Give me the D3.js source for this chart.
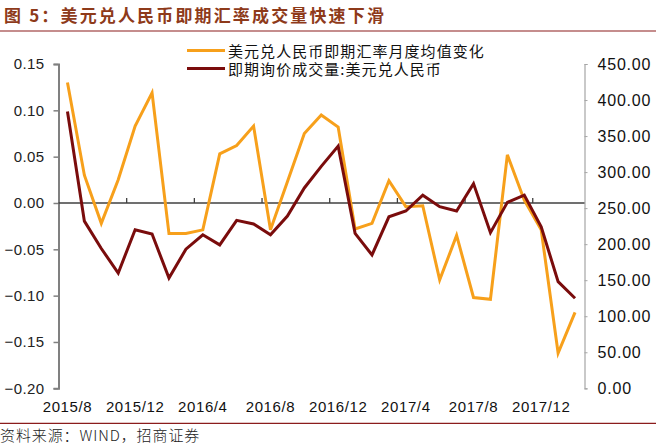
<!DOCTYPE html>
<html><head><meta charset="utf-8">
<script src="https://cdn.jsdelivr.net/npm/d3@7/dist/d3.min.js"></script>
<style>
html,body{margin:0;padding:0;background:#fff;}
svg{display:block;}
</style></head>
<body><svg id="c" width="656" height="446"></svg>
<script>
const titleText = "图 5：美元兑人民币即期汇率成交量快速下滑";
const sourceText = "资料来源：WIND，招商证券";
const seriesNames = ["美元兑人民币即期汇率月度均值变化", "即期询价成交量:美元兑人民币"];
const categories = ["2015/8","2015/9","2015/10","2015/11","2015/12","2016/1","2016/2","2016/3","2016/4","2016/5","2016/6","2016/7","2016/8","2016/9","2016/10","2016/11","2016/12","2017/1","2017/2","2017/3","2017/4","2017/5","2017/6","2017/7","2017/8","2017/9","2017/10","2017/11","2017/12","2018/1","2018/2"];
const fxChange = [0.130, 0.030, -0.022, 0.025, 0.083, 0.119, -0.033, -0.033, -0.029, 0.053, 0.062, 0.083, -0.029, 0.023, 0.075, 0.095, 0.082, -0.028, -0.022, 0.024, -0.004, -0.003, -0.083, -0.035, -0.102, -0.104, 0.052, 0.003, -0.029, -0.162, -0.118];
const volume = [384, 232, 194, 160, 220, 214, 153, 193, 213, 199, 233, 228, 213, 239, 278, 308, 336, 215, 185, 238, 246, 268, 252, 246, 284, 216, 258, 268, 224, 148, 125];
const leftTicks = [0.15, 0.10, 0.05, 0.00, -0.05, -0.10, -0.15, -0.20];
const rightTicks = [450, 400, 350, 300, 250, 200, 150, 100, 50, 0];
const xLabels = ["2015/8","2015/12","2016/4","2016/8","2016/12","2017/4","2017/8","2017/12"];

const orange = "#F7A01B", darkRed = "#7A0C0C";
const svg = d3.select("#c");
svg.append("rect").attr("width",656).attr("height",446).attr("fill","#fff");

// title
svg.append("text").attr("x",4).attr("y",14).attr("dominant-baseline","central")
  .attr("font-family","'Noto Sans CJK SC'").attr("font-weight","bold").attr("font-size",17)
  .attr("letter-spacing",2.15).attr("fill","#8E3A1A").text(titleText);
svg.append("line").attr("x1",0).attr("x2",656).attr("y1",31).attr("y2",31)
  .attr("stroke","#8B1C1C").attr("stroke-width",1.2);

const x = d3.scaleBand().domain(categories).range([59, 583.5]).padding(0);
const yL = d3.scaleLinear().domain([-0.2, 0.15]).range([388.3, 64]);
const yR = d3.scaleLinear().domain([0, 450]).range([388.3, 64]);

// left axis
const gL = svg.append("g").attr("transform","translate(58.5,0)")
  .call(d3.axisLeft(yL).tickValues(leftTicks).tickFormat(d3.format(".2f")).tickSize(5).tickPadding(9));
gL.select(".domain").attr("stroke","#808080").attr("stroke-width",2);
gL.selectAll(".tick line").attr("stroke","#808080").attr("stroke-width",1.5);
gL.selectAll(".tick text").attr("font-family","'Liberation Sans',Arial").attr("font-size",15).attr("fill","#222")
  .attr("letter-spacing",0.4);

// right axis
const gR = svg.append("g").attr("transform","translate(584.5,0)")
  .call(d3.axisRight(yR).tickValues(rightTicks).tickFormat(d3.format(".2f")).tickSize(3).tickPadding(10));
gR.select(".domain").attr("stroke","#A6A6A6").attr("stroke-width",1.2);
gR.selectAll(".tick line").attr("stroke","#A6A6A6");
gR.selectAll(".tick text").attr("font-family","'Liberation Sans',Arial").attr("font-size",16).attr("fill","#111")
  .attr("letter-spacing",0.8);

// zero line (category axis) with ticks
const y0 = yL(0);
const bw = x.bandwidth();
const gX = svg.append("g").attr("transform",`translate(0,${y0})`);
gX.append("line").attr("x1",58.5).attr("x2",584.5).attr("stroke","#404040").attr("stroke-width",1.5);
categories.forEach((c,i)=>{
  if(i>0 && i%4===0){
    gX.append("line").attr("x1",x(c)).attr("x2",x(c)).attr("y1",0).attr("y2",-5).attr("stroke","#404040").attr("stroke-width",1.3);
  }
});
// category labels
svg.append("g").selectAll("text").data(xLabels).join("text")
  .attr("x",d=>x(d)+bw/2).attr("y",411.7).attr("text-anchor","middle")
  .attr("font-family","'Liberation Sans',Arial").attr("font-size",15).attr("fill","#111").attr("letter-spacing",0.6)
  .text(d=>d);

// lines
const lineL = d3.line().x((d,i)=>x(categories[i])+bw/2).y(d=>yL(d));
const lineR = d3.line().x((d,i)=>x(categories[i])+bw/2).y(d=>yR(d));
svg.append("path").datum(fxChange).attr("d",lineL).attr("fill","none").attr("stroke",orange).attr("stroke-width",3).attr("stroke-linejoin","miter");
svg.append("path").datum(volume).attr("d",lineR).attr("fill","none").attr("stroke",darkRed).attr("stroke-width",3).attr("stroke-linejoin","miter");

// legend
const leg = svg.append("g");
[[orange,50.5],[darkRed,68.5]].forEach((s,i)=>{
  leg.append("line").attr("x1",187).attr("x2",225).attr("y1",s[1]).attr("y2",s[1]).attr("stroke",s[0]).attr("stroke-width",3);
  leg.append("text").attr("x",228).attr("y",s[1]).attr("dominant-baseline","central")
    .attr("font-family","'Noto Sans CJK SC'").attr("font-size",15).attr("letter-spacing",1.05).attr("fill","#111").text(seriesNames[i]);
});

// source
svg.append("line").attr("x1",0).attr("x2",656).attr("y1",423.3).attr("y2",423.3).attr("stroke","#8B1C1C").attr("stroke-width",1.2);
svg.append("text").attr("x",0).attr("y",434).attr("dominant-baseline","central")
  .attr("font-family","'Noto Sans CJK SC'").attr("font-size",15).attr("font-weight",300).attr("letter-spacing",0.9).attr("fill","#222").text(sourceText);
</script></body></html>
